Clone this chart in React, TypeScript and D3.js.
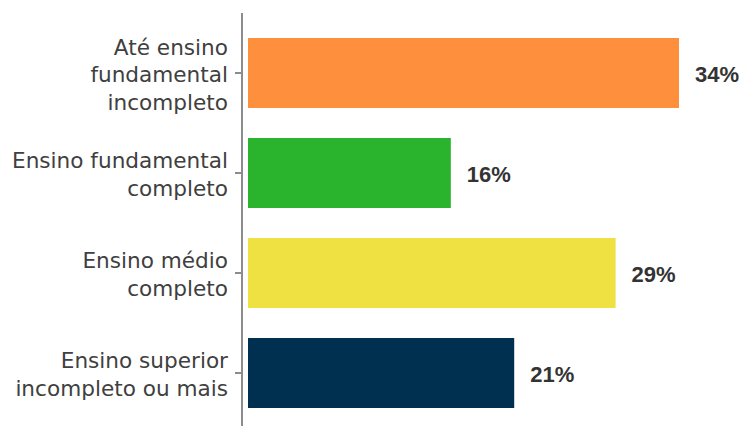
import React from "react";
import * as d3 from "d3";

const categories: string[][] = [
  ["Até ensino", "fundamental", "incompleto"],
  ["Ensino fundamental", "completo"],
  ["Ensino médio", "completo"],
  ["Ensino superior", "incompleto ou mais"],
];
const values: number[] = [34, 16, 29, 21];
const valueLabels: string[] = ["34%", "16%", "29%", "21%"];
const colors: string[] = ["#FE8F3D", "#2AB42E", "#F0E143", "#00304F"];

const W = 742;
const H = 426;

export default function App() {
  const ids = categories.map((_, i) => String(i));
  const y = d3.scaleBand<string>().domain(ids).range([23, 423]).paddingInner(0.3).paddingOuter(0.15);
  const x = d3.scaleLinear().domain([0, 34]).range([248, 679]);
  const axisX = 242;
  const lineH = 27.5;

  return (
    <svg width={W} height={H} style={{ position: "absolute", left: 0, top: 0, background: "#fff" }}>
      <line x1={axisX} x2={axisX} y1={13} y2={426} stroke="#8C8C8C" strokeWidth={2} />
      {ids.map((id, i) => {
        const yc = (y(id) as number) + y.bandwidth() / 2;
        const lines = categories[i];
        const y0 = yc + 9 - ((lines.length - 1) / 2) * lineH;
        return (
          <g key={id}>
            <line x1={axisX - 7} x2={axisX} y1={yc} y2={yc} stroke="#8C8C8C" strokeWidth={2} />
            <rect x={x(0)} y={y(id)} width={x(values[i]) - x(0)} height={y.bandwidth()} fill={colors[i]} />
            <text
              x={x(values[i]) + 16}
              y={yc + 1.5}
              dominantBaseline="central"
              fontFamily="'Liberation Sans', Arial, sans-serif"
              fontWeight="bold"
              fontSize={22}
              fill="#333333"
            >
              {valueLabels[i]}
            </text>
            <text
              x={228}
              y={y0}
              textAnchor="end"
              fontFamily="'DejaVu Sans', sans-serif"
              fontSize={21.6}
              fill="#404040"
            >
              {lines.map((t, j) => (
                <tspan key={j} x={228} y={y0 + j * lineH}>
                  {t}
                </tspan>
              ))}
            </text>
          </g>
        );
      })}
    </svg>
  );
}
